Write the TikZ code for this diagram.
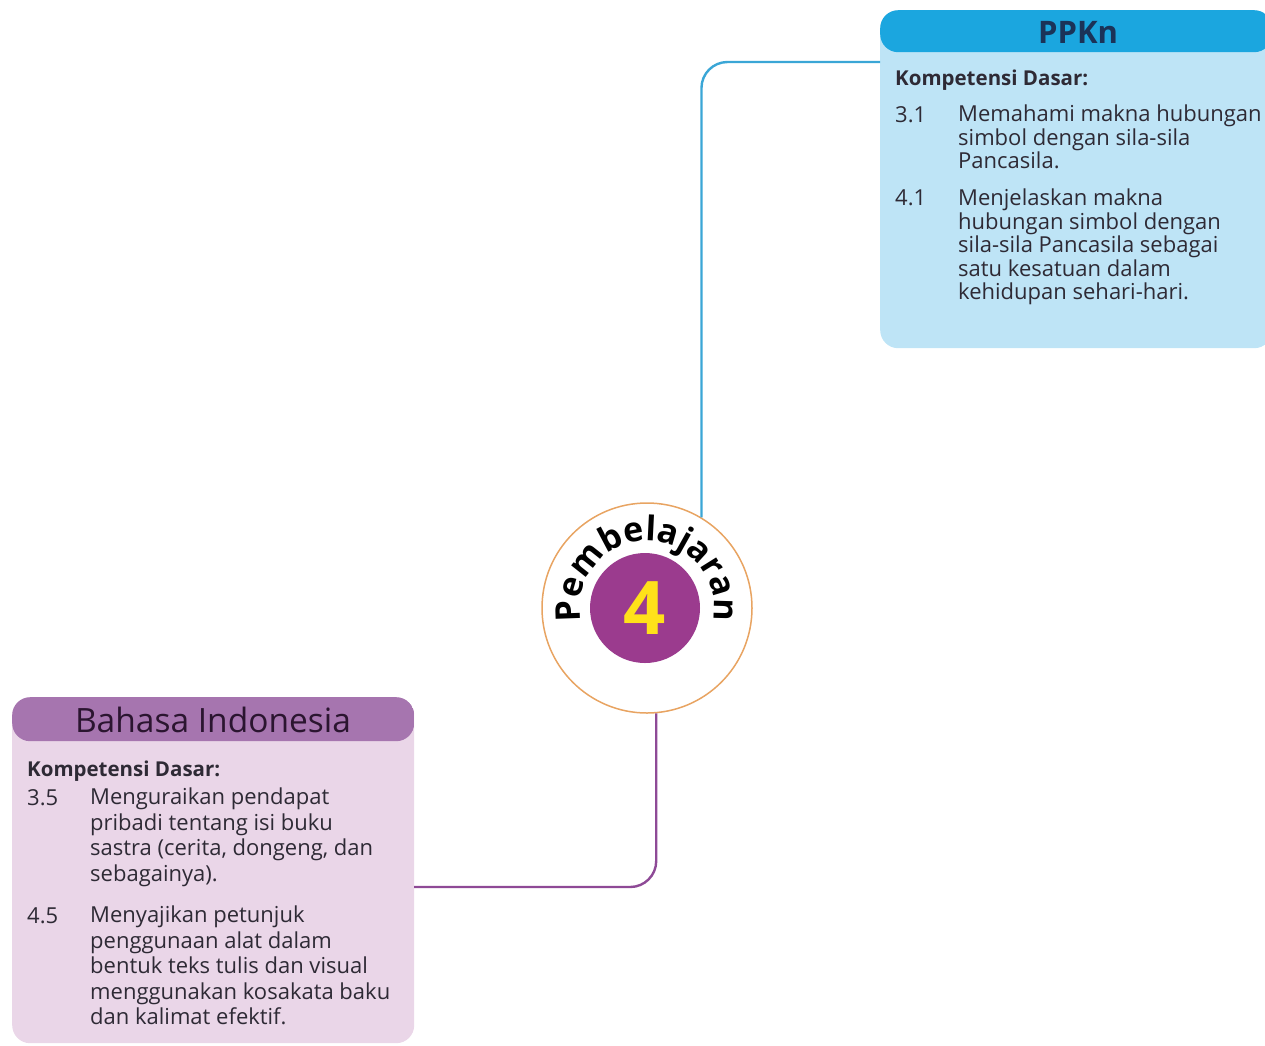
\documentclass[tikz,border=0pt]{standalone}
\usepackage{fontspec}
\setmainfont{Open Sans}
\usetikzlibrary{decorations.text}

\definecolor{ppknhead}{HTML}{1BA6DF}
\definecolor{ppknbody}{HTML}{BEE4F6}
\definecolor{ppknline}{HTML}{3AA6D6}
\definecolor{bindohead}{HTML}{A675AF}
\definecolor{bindobody}{HTML}{EAD6E8}
\definecolor{bindoline}{HTML}{8E4A96}
\definecolor{ringorange}{HTML}{E8A462}
\definecolor{lessonpurple}{HTML}{9B3B8E}
\definecolor{numyellow}{HTML}{FFE11A}
\definecolor{textdark}{HTML}{2E2A35}
\definecolor{ppkntitle}{HTML}{1B3358}
\definecolor{bindotitle}{HTML}{2B1530}

\tikzset{
  subjbox/.style={rectangle, rounded corners=18pt, inner sep=0pt, anchor=north west},
  kdtitle/.style={anchor=west, inner sep=0pt, font=\bfseries\fontsize{20.5}{24}\selectfont, text=textdark},
  kdnum/.style={anchor=north west, inner sep=0pt, text=textdark},
  kdtext/.style={kdnum, align=left},
  link/.style={line width=2.4pt, rounded corners=26pt},
}

\begin{document}
\begin{tikzpicture}[x=1pt, y=-1pt]
        \useasboundingbox (0,0) rectangle (1265,1045);
        \clip (0,0) rectangle (1265,1045);

        % subject boxes
        \node[subjbox, fill=ppknbody, minimum width=392pt, minimum height=338pt,
              path picture={\fill[ppknhead] (path picture bounding box.north west)
                rectangle ([yshift=-42pt]path picture bounding box.north east);}]
              (ppkn) at (880,10) {};
        \node[subjbox, fill=bindobody, minimum width=402pt, minimum height=346pt,
              path picture={\fill[bindohead] (path picture bounding box.north west)
                rectangle ([yshift=-44pt]path picture bounding box.north east);}]
              (bindo) at (12,697) {};

        % centre badge
        \node[circle, draw=ringorange, line width=1.5pt, fill=white, minimum size=210pt, inner sep=0pt] (lesson) at (647,608) {};
        \node[circle, fill=lessonpurple, minimum size=110pt, inner sep=0pt, text=numyellow,
              font=\bfseries\fontsize{74}{74}\selectfont] (num) at (645,608) {4};
        \begin{scope}[shift={(lesson.center)}, x=1pt, y=1pt]
            \path[decorate, decoration={text along path, text align=center,
                  text={|\bfseries\fontsize{34}{34}\selectfont|Pembelajaran}}]
                  (200:67) arc[start angle=200, end angle=-20, radius=67];
        \end{scope}

        % connectors
        \coordinate (ppknjoin) at (880,62);
        \coordinate (bindojoin) at (414,887);
        \draw[link, ppknline] (ppknjoin) -| (lesson.59);
        \draw[link, bindoline] (bindojoin) -| (lesson.-85);

        % PPKn
        \node[font=\bfseries\fontsize{31}{34}\selectfont, text=ppkntitle] (ppkntit) at (1078,32) {PPKn};
        \node[kdtitle] (ppknkd) at (895,80) {Kompetensi Dasar:};
        \begin{scope}[font=\fontsize{22}{23.5}\selectfont]
            \node[kdnum] (n31) at (895,106) {3.1};
            \node[kdtext] (t31) at (958,105) {Memahami makna hubungan\\simbol dengan sila-sila\\Pancasila.};
            \node[kdnum] (n41) at (895,190) {4.1};
            \node[kdtext] (t41) at (958,189) {Menjelaskan makna\\hubungan simbol dengan\\sila-sila Pancasila sebagai\\satu kesatuan dalam\\kehidupan sehari-hari.};
        \end{scope}

        % Bahasa Indonesia
        \node[font=\fontsize{33.5}{36}\selectfont, text=bindotitle] (bindotit) at (213,720) {Bahasa Indonesia};
        \node[kdtitle] (bindokd) at (27,771) {Kompetensi Dasar:};
        \begin{scope}[font=\fontsize{22}{25.5}\selectfont]
            \node[kdnum] (n35) at (27,789) {3.5};
            \node[kdtext] (t35) at (90,788) {Menguraikan pendapat\\pribadi tentang isi buku\\sastra (cerita, dongeng, dan\\sebagainya).};
            \node[kdnum] (n45) at (27,907) {4.5};
            \node[kdtext] (t45) at (90,906) {Menyajikan petunjuk\\penggunaan alat dalam\\bentuk teks tulis dan visual\\menggunakan kosakata baku\\dan kalimat efektif.};
        \end{scope}
\end{tikzpicture}
\end{document}
